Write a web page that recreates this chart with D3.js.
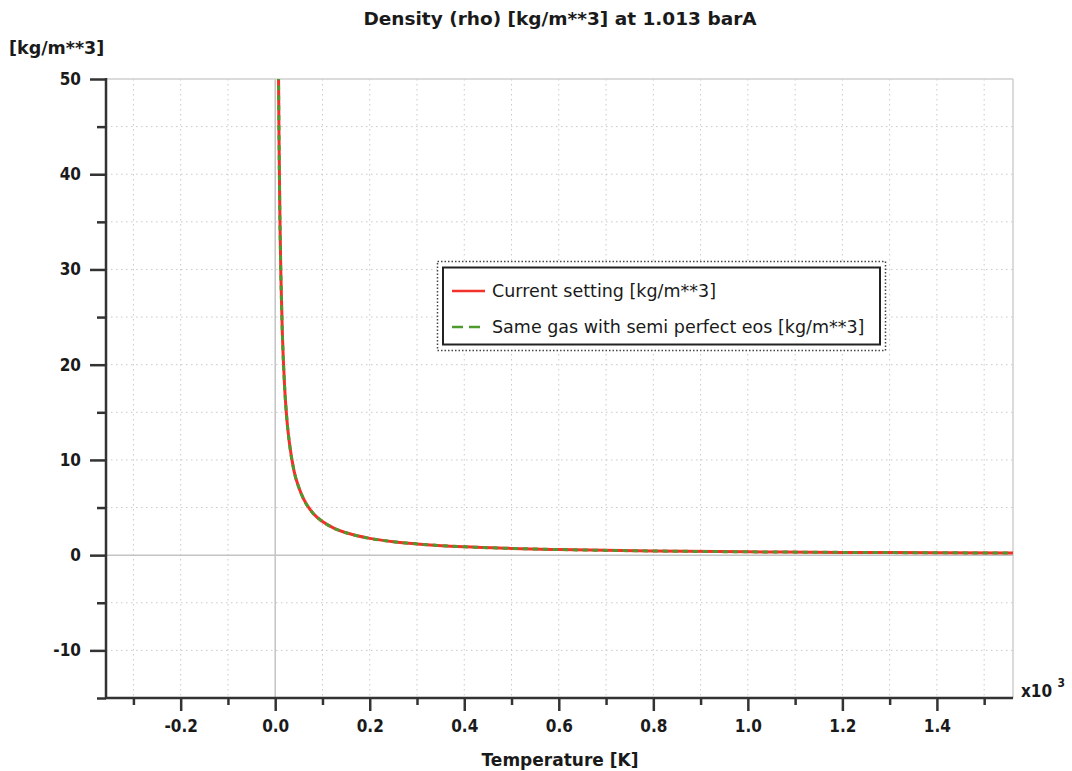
<!DOCTYPE html>
<html><head><meta charset="utf-8">
<script src="https://cdn.jsdelivr.net/npm/d3@7"></script>
<style>
html,body{margin:0;padding:0;background:#fff;}
svg{display:block;font-family:"DejaVu Sans Condensed","DejaVu Sans",sans-serif;}
</style></head>
<body><svg id="c" width="1072" height="771"></svg>
<script>
// ---- data ----
const temperatureK = [6, 7, 8, 10, 12, 15, 20, 25, 30, 40, 50, 60, 80, 100, 125, 150, 200, 250, 300, 400, 500, 600, 800, 1000, 1200, 1400, 1570];
const currentSetting = [58.8, 50.4, 44.1, 35.3, 29.4, 23.5, 17.6, 14.1, 11.8, 8.8, 7.1, 5.9, 4.4, 3.53, 2.82, 2.35, 1.76, 1.41, 1.18, 0.88, 0.71, 0.59, 0.44, 0.35, 0.29, 0.25, 0.22];
const semiPerfect   = [58.8, 50.4, 44.1, 35.3, 29.4, 23.5, 17.6, 14.1, 11.8, 8.8, 7.1, 5.9, 4.4, 3.53, 2.82, 2.35, 1.76, 1.41, 1.18, 0.88, 0.71, 0.59, 0.44, 0.35, 0.29, 0.25, 0.22];
const seriesNames = ["Current setting [kg/m**3]", "Same gas with semi perfect eos [kg/m**3]"];
const xTickLabels = ["-0.2", "0.0", "0.2", "0.4", "0.6", "0.8", "1.0", "1.2", "1.4"];
const yTickLabels = ["-10", "0", "10", "20", "30", "40", "50"];
const titleText = "Density (rho) [kg/m**3] at 1.013 barA";
const xAxisTitle = "Temperature [K]";
const yUnitLabel = "[kg/m**3]";

// ---- layout ----
const L = 106, R = 1013, T = 79, B = 698;
const svg = d3.select("#c");
const x = d3.scaleLinear().domain([-0.358, 1.561]).range([L, R]);   // x10^3 K
const y = d3.scaleLinear().domain([-15, 50]).range([B, T]);

const red = "#f2312a", green = "#4f9a2c", gridC = "#c9c9c9";
const cond = "'DejaVu Sans Condensed','DejaVu Sans',sans-serif";
const wide = "'DejaVu Sans',sans-serif";

// grid
const xMinor = d3.range(-3, 16).map(d => d / 10);
const yMinor = d3.range(-15, 51, 5);
const g = svg.append("g");
g.selectAll(".vg").data(xMinor.filter(d => Math.abs(d) > 1e-9)).enter().append("line")
  .attr("x1", d => x(d)).attr("x2", d => x(d)).attr("y1", T).attr("y2", B)
  .attr("stroke", gridC).attr("stroke-width", 1).attr("stroke-dasharray", "1.5,3.5");
g.selectAll(".hg").data(yMinor.filter(d => d !== 0 && d !== -15 && d !== 50)).enter().append("line")
  .attr("x1", L).attr("x2", R).attr("y1", d => y(d)).attr("y2", d => y(d))
  .attr("stroke", gridC).attr("stroke-width", 1).attr("stroke-dasharray", "1.5,3.5");
// zero lines and top/right frame
g.append("line").attr("x1", x(0)).attr("x2", x(0)).attr("y1", T).attr("y2", B).attr("stroke", "#c4c4c4").attr("stroke-width", 1.5);
g.append("line").attr("x1", L).attr("x2", R).attr("y1", y(0)).attr("y2", y(0)).attr("stroke", "#c4c4c4").attr("stroke-width", 1.5);
g.append("line").attr("x1", L).attr("x2", R).attr("y1", T).attr("y2", T).attr("stroke", "#cfcfcf").attr("stroke-width", 1.5);
g.append("line").attr("x1", R).attr("x2", R).attr("y1", T).attr("y2", B).attr("stroke", "#cfcfcf").attr("stroke-width", 1.5);

// curves
svg.append("clipPath").attr("id", "clip").append("rect").attr("x", L).attr("y", T).attr("width", R - L).attr("height", B - T);
const line = d3.line().x((d, i) => x(temperatureK[i] / 1000)).y(d => y(d)).curve(d3.curveMonotoneX);
const cg = svg.append("g").attr("clip-path", "url(#clip)");
cg.append("path").attr("d", line(currentSetting)).attr("fill", "none").attr("stroke", red).attr("stroke-width", 3);
cg.append("path").attr("d", line(semiPerfect)).attr("fill", "none").attr("stroke", green).attr("stroke-width", 3).attr("stroke-dasharray", "5,5");

// axes
const fontAx = "bold 17px " + cond;
const xAxis = d3.axisBottom(x).tickValues(xTickLabels.map(Number)).tickFormat((d, i) => xTickLabels[i]).tickSize(13).tickPadding(9);
const xa = svg.append("g").attr("transform", `translate(0,${B})`).call(xAxis);
const xMinorAxis = d3.axisBottom(x).tickValues([-0.3, -0.1, 0.1, 0.3, 0.5, 0.7, 0.9, 1.1, 1.3, 1.5]).tickFormat("").tickSize(7);
const xm = svg.append("g").attr("transform", `translate(0,${B})`).call(xMinorAxis);
const yAxis = d3.axisLeft(y).tickValues(yTickLabels.map(Number)).tickFormat((d, i) => yTickLabels[i]).tickSize(16).tickPadding(9);
const ya = svg.append("g").attr("transform", `translate(${L},0)`).call(yAxis);
const yMinorAxis = d3.axisLeft(y).tickValues([-15, -5, 5, 15, 25, 35, 45]).tickFormat("").tickSize(9);
const ym = svg.append("g").attr("transform", `translate(${L},0)`).call(yMinorAxis);
[xa, xm, ya, ym].forEach(a => {
  a.select(".domain").remove();
  a.selectAll(".tick line").attr("stroke", "#333").attr("stroke-width", 2.5);
  a.selectAll("text").style("font", fontAx).attr("fill", "#1a1a1a");
});
svg.append("line").attr("x1", L).attr("x2", L).attr("y1", T - 1).attr("y2", B + 1).attr("stroke", "#333").attr("stroke-width", 2.5);
svg.append("line").attr("x1", L - 1).attr("x2", R).attr("y1", B).attr("y2", B).attr("stroke", "#333").attr("stroke-width", 2.5);

// titles
svg.append("text").attr("x", 560).attr("y", 25).attr("text-anchor", "middle").style("font", "bold 18.5px " + wide).attr("fill", "#1a1a1a").text(titleText);
svg.append("text").attr("x", 9).attr("y", 54).style("font", "bold 17.5px " + wide).attr("fill", "#1a1a1a").text(yUnitLabel);
svg.append("text").attr("x", 560).attr("y", 766).attr("text-anchor", "middle").style("font", "bold 17px " + wide).attr("fill", "#1a1a1a").text(xAxisTitle);
const sc = svg.append("text").attr("x", 1021).attr("y", 697).style("font", fontAx).attr("fill", "#1a1a1a");
sc.append("tspan").text("x10 ");
sc.append("tspan").attr("dy", -10).style("font-size", "12px").text("3");

// legend
const lg = svg.append("g");
lg.append("rect").attr("x", 437.5).attr("y", 261.5).attr("width", 448).attr("height", 89).attr("fill", "#fff").attr("stroke", "#444").attr("stroke-width", 1.5).attr("stroke-dasharray", "1.5,2");
lg.append("rect").attr("x", 443).attr("y", 267.5).attr("width", 437).attr("height", 77).attr("fill", "#fff").attr("stroke", "#222").attr("stroke-width", 2);
const colors = [red, green], dashes = [null, "11,6"], rowY = [291, 327];
seriesNames.forEach((n, i) => {
  lg.append("line").attr("x1", 452).attr("x2", 485).attr("y1", rowY[i]).attr("y2", rowY[i]).attr("stroke", colors[i]).attr("stroke-width", 2.5).attr("stroke-dasharray", dashes[i]);
  lg.append("text").attr("x", 492).attr("y", rowY[i] + 6).style("font", "17.5px " + wide).attr("fill", "#1a1a1a").text(n);
});
</script></body></html>
